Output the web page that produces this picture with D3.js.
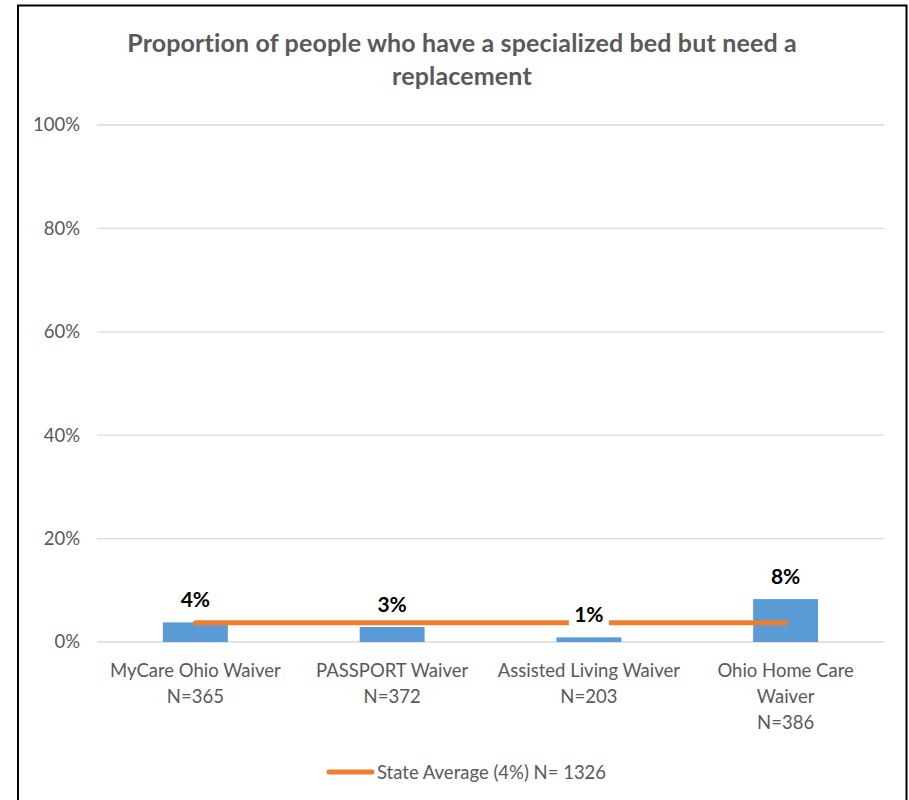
<!DOCTYPE html>
<html>
<head>
<meta charset="utf-8">
<script src="https://cdn.jsdelivr.net/npm/d3@7"></script>
<style>
  html, body { margin: 0; padding: 0; background: #fff; }
  svg { display: block; }
</style>
</head>
<body>
<svg id="chart" width="909" height="800"></svg>
<script>
const categories = [
  ["MyCare Ohio Waiver", "N=365"],
  ["PASSPORT Waiver", "N=372"],
  ["Assisted Living Waiver", "N=203"],
  ["Ohio Home Care", "Waiver", "N=386"]
];
const values = [3.8, 2.9, 0.9, 8.3];
const valueLabels = ["4%", "3%", "1%", "8%"];
const stateAverage = 3.7;
const yTicks = [0, 20, 40, 60, 80, 100];
const titleLines = ["Proportion of people who have a specialized bed but need a", "replacement"];
const legendLabel = "State Average (4%) N= 1326";

const FONT = "Lato, Carlito, Calibri, sans-serif";
const svg = d3.select("#chart");

// frame
svg.append("rect").attr("x", 18).attr("y", 5.5).attr("width", 888.5).attr("height", 820)
  .attr("fill", "#fff").attr("stroke", "#000").attr("stroke-width", 2);

const margin = { left: 97, right: 25 };
const W = 909;
const x = d3.scaleBand().domain(d3.range(categories.length))
  .range([margin.left, W - margin.right]).paddingInner(0).paddingOuter(0);
const y = d3.scaleLinear().domain([0, 100]).range([642, 125]);

// title
svg.append("g").selectAll("text").data(titleLines).join("text")
  .attr("x", 462).attr("y", (d, i) => 52 + i * 33)
  .attr("text-anchor", "middle")
  .attr("font-family", FONT).attr("font-weight", "bold").attr("font-size", 25)
  .attr("letter-spacing", 0.15)
  .attr("fill", "#595959").text(d => d);

// gridlines
svg.append("g").selectAll("line").data(yTicks).join("line")
  .attr("x1", margin.left).attr("x2", W - margin.right)
  .attr("y1", d => y(d)).attr("y2", d => y(d))
  .attr("stroke", "#d9d9d9").attr("stroke-width", 1.3);

// y axis labels
const yAxis = d3.axisLeft(y).tickValues(yTicks).tickFormat(d => d + "%").tickSize(0).tickPadding(0);
const yg = svg.append("g").attr("transform", "translate(80,0)").call(yAxis);
yg.select(".domain").remove();
yg.selectAll("text").attr("font-family", FONT).attr("font-size", 18.5).attr("fill", "#595959");

// bars
const barW = x.bandwidth() * 0.33;
svg.append("g").selectAll("rect").data(values).join("rect")
  .attr("x", (d, i) => x(i) + x.bandwidth() / 2 - barW / 2)
  .attr("width", barW)
  .attr("y", d => y(d)).attr("height", d => y(0) - y(d))
  .attr("fill", "#5b9bd5");

// state average line
svg.append("line")
  .attr("x1", x(0) + x.bandwidth() / 2).attr("x2", x(categories.length - 1) + x.bandwidth() / 2)
  .attr("y1", y(stateAverage)).attr("y2", y(stateAverage))
  .attr("stroke", "#ed7d31").attr("stroke-width", 5).attr("stroke-linecap", "round");

// value labels with white background
const lg = svg.append("g").selectAll("g").data(values).join("g")
  .attr("transform", (d, i) => `translate(${x(i) + x.bandwidth() / 2},${y(d) - 23})`);
lg.append("rect").attr("x", -20).attr("y", -14).attr("width", 40).attr("height", 28).attr("fill", "#fff");
lg.append("text").attr("text-anchor", "middle").attr("dy", "0.36em")
  .attr("font-family", FONT).attr("font-weight", "bold").attr("font-size", 21)
  .attr("fill", "#000").text((d, i) => valueLabels[i]);

// category labels
const cg = svg.append("g").selectAll("text").data(categories).join("text")
  .attr("text-anchor", "middle")
  .attr("font-family", FONT).attr("font-size", 18.5).attr("fill", "#595959");
cg.selectAll("tspan").data((d, i) => d.map(t => ({ t, i }))).join("tspan")
  .attr("x", d => x(d.i) + x.bandwidth() / 2)
  .attr("y", (d, j) => 677 + j * 26)
  .text(d => d.t);

// legend
svg.append("line").attr("x1", 329).attr("x2", 372).attr("y1", 772).attr("y2", 772)
  .attr("stroke", "#ed7d31").attr("stroke-width", 5).attr("stroke-linecap", "round");
svg.append("text").attr("x", 377).attr("y", 779)
  .attr("font-family", FONT).attr("font-size", 18.5).attr("fill", "#595959").text(legendLabel);
</script>
</body>
</html>
